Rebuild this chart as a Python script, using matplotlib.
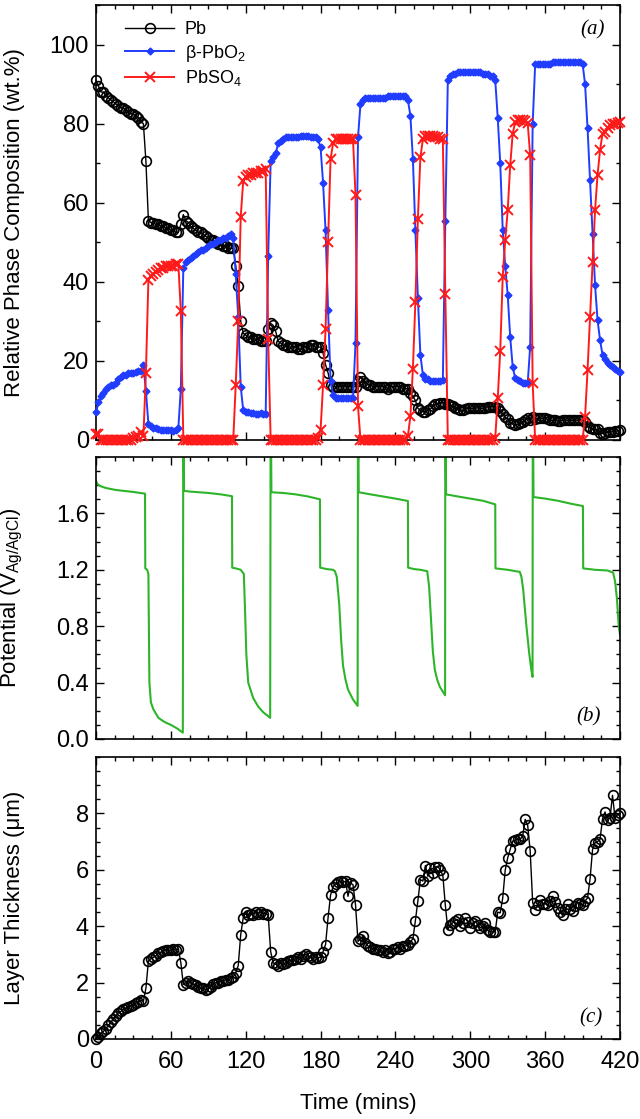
import numpy as np
import matplotlib
matplotlib.use('Agg')
import matplotlib.pyplot as plt
from matplotlib.ticker import MultipleLocator

plt.rcParams['font.family'] = ['Liberation Sans', 'DejaVu Sans']
plt.rcParams['mathtext.default'] = 'regular'

# ============ data ============
time = np.arange(0, 421, 2)   # sample times (mins)

pb = [
    91, 89.5, 88, 88, 87, 86.5, 86, 85.5, 85, 84.5,
    84, 84, 83.5, 83, 82.5, 82.5, 82, 81.5, 80.5, 80,
    70.5, 55.5, 55, 55, 54.5, 54.5, 54, 54, 53.5, 53.5,
    53, 53, 52.5, 52.5, 54.5, 57, 55.5, 55, 54, 53.5,
    53, 52.5, 52.5, 52, 51.5, 51, 50.5, 50.5, 50, 49.5,
    49.5, 49, 49, 48.5, 48.5, 48.5, 44, 39, 30, 27,
    26.5, 26, 26, 25.5, 25.5, 25.5, 25, 25, 25, 28,
    29.5, 29, 27.5, 25, 24.5, 24, 24, 23.5, 23.5, 23.5,
    23.5, 23, 23, 23.5, 23.5, 23.5, 24, 24, 23.5, 23.5,
    23.5, 22, 19, 17, 14, 13.5, 13.5, 13.5, 13.5, 13.5,
    13.5, 13.5, 13.5, 13.5, 13.5, 15, 16, 15, 14.5, 14,
    14, 13.5, 13.5, 13.5, 13.5, 13.5, 13.5, 13, 13.5, 13.5,
    13.5, 13.5, 13.5, 13, 13, 13, 12, 11, 10, 8,
    7.5, 7.2, 7.2, 7.5, 7.8, 8.5, 9, 9.2, 9.4, 9.4,
    9, 9, 8.8, 8.5, 8, 7.8, 7.5, 7.5, 7.8, 8,
    8, 8, 8, 8.2, 8, 8, 8.2, 8.4, 8.4, 8.4,
    8.4, 8, 7.4, 6.5, 5.8, 5.3, 4.4, 4, 3.8, 4,
    4.2, 4.5, 5, 5.5, 5, 5.7, 5.2, 5.5, 5.5, 5.5,
    5.5, 5.2, 5, 5, 5, 4.8, 4.8, 5, 5, 5,
    5, 5, 5, 5, 5, 5, 4.6, 3.5, 3.1, 2.7,
    2.7, 2.7, 1.8, 1.6, 1.8, 2, 2, 2.1, 2.2, 2.3,
    2.5]

pbo2 = [
    7, 9.5, 11, 12, 13, 13.5, 14, 14, 14.5, 15.5,
    16, 16.5, 16.5, 17, 17, 17, 17.3, 17.5, 17.5, 19,
    12.5, 4, 3.5, 3, 3, 2.8, 2.5, 2.5, 2.5, 2.5,
    2.5, 2.2, 2.5, 3, 13, 43.5, 45, 45.5, 46, 46.5,
    47, 47.5, 48, 48, 48.5, 49, 49.5, 49.5, 50, 50.5,
    50.5, 51, 51, 51.5, 52, 51, 42, 31, 13.5, 7.5,
    7, 7, 6.8, 6.8, 6.5, 6.5, 6.8, 6.5, 6.5, 46.5,
    70.5, 71.5, 72.5, 75, 75.5, 76, 76.5, 76.5, 76.5, 76.5,
    76.5, 76.5, 77, 77, 77, 77, 76.5, 76.5, 76.5, 76,
    74, 65, 53, 33, 15, 11.5, 10.5, 10.5, 10.5, 10.5,
    10.5, 10.5, 10.5, 10.5, 24.5, 76.5, 85, 86, 86.5, 86.5,
    86.5, 86.5, 86.5, 86.5, 86.5, 86.5, 86.5, 87, 87, 87,
    87, 87, 87, 87, 87, 86, 82, 71, 53, 36,
    21.5, 16.5, 15.5, 15.5, 15, 15, 15, 15, 15, 15.2,
    55.5, 91, 92, 92.5, 92.5, 93, 93, 93, 93, 93,
    93, 93, 93, 93, 93, 92.5, 92.5, 92.5, 92, 92,
    91, 81.5, 70, 53, 44, 36.6, 26, 18.5, 15.6, 15.2,
    15, 14.5, 14.3, 14.3, 23.6, 80, 95, 95, 95, 95,
    95, 95, 95, 95.5, 95.5, 95.5, 95.5, 95.5, 95.5, 95.5,
    95.5, 95.5, 95.5, 95.5, 95.5, 95.2, 90, 78.8, 65.7, 52.2,
    39.2, 30.3, 25.3, 21.5, 20.5, 19.5, 19, 18.5, 18, 17.5,
    17.3]

pbso4 = [
    1.5, 1.5, 0, 0, 0, 0, 0, 0, 0, 0,
    0, 0, 0, 0, 0, 0.5, 0.8, 1, 2, 1,
    17, 40.5, 41.5, 42, 42.5, 43, 43.5, 43.5, 44, 44,
    44, 44, 44.5, 44.5, 32.5, 0, 0, 0, 0, 0,
    0, 0, 0, 0, 0, 0, 0, 0, 0, 0,
    0, 0, 0, 0, 0, 0, 14, 30, 56.5, 65.5,
    66.5, 67, 67, 67.5, 67.5, 67.5, 68, 68, 68.5, 25.5,
    0, 0, 0, 0, 0, 0, 0, 0, 0, 0,
    0, 0, 0, 0, 0, 0, 0, 0, 0, 0.5,
    2.5, 14, 28, 50, 71, 75, 76, 76, 76, 76,
    76, 76, 76, 76, 62, 8.5, 0, 0, 0, 0,
    0, 0, 0, 0, 0, 0, 0, 0, 0, 0,
    0, 0, 0, 0, 0, 1, 6, 18, 35, 56,
    71.5, 76, 77, 77, 77, 77, 76.5, 76.5, 76, 76,
    37, 0, 0, 0, 0, 0, 0, 0, 0, 0,
    0, 0, 0, 0, 0, 0, 0, 0, 0, 0,
    0.5, 10.5, 22.5, 41.3, 50.5, 58.1, 69.5, 77.5, 80.4, 80.8,
    80.8, 81, 80.7, 80.2, 72, 14.3, 0, 0, 0, 0,
    0, 0, 0, 0, 0, 0, 0, 0, 0, 0,
    0, 0, 0, 0, 0, 0, 5.9, 17.7, 31.2, 45.1,
    58.1, 67, 73.3, 77.5, 78, 79, 79.6, 79.8, 80, 80.2,
    80.4]

thickness = [
    0, 0.08, 0.2, 0.27, 0.37, 0.48, 0.6, 0.72, 0.82, 0.93,
    0.98, 1.05, 1.1, 1.15, 1.18, 1.22, 1.28, 1.32, 1.37, 1.34,
    1.8, 2.76, 2.85, 2.9, 2.95, 3.05, 3.08, 3.12, 3.17, 3.15,
    3.15, 3.2, 3.15, 3.2, 2.7, 1.93, 2.0, 2.05, 1.98, 1.95,
    1.9, 1.85, 1.8, 1.8, 1.75, 1.78, 1.85, 1.95, 2.0, 2.0,
    2.05, 2.05, 2.1, 2.1, 2.15, 2.2, 2.35, 2.6, 3.7, 4.3,
    4.5, 4.4, 4.45, 4.4, 4.5, 4.45, 4.5, 4.45, 4.45, 4.4,
    3.1, 2.7, 2.65, 2.6, 2.7, 2.65, 2.7, 2.75, 2.8, 2.8,
    2.85, 2.9, 2.85, 2.95, 3.0, 2.95, 2.9, 2.85, 2.9, 2.88,
    2.9, 3.1, 3.35, 4.3, 5.1, 5.4, 5.5, 5.55, 5.6, 5.55,
    5.6, 5.06, 5.53, 5.47, 4.76, 3.46, 3.55, 3.64, 3.4, 3.3,
    3.25, 3.2, 3.2, 3.15, 3.15, 3.1, 3.15, 3.05, 3.1, 3.2,
    3.2, 3.25, 3.2, 3.3, 3.3, 3.35, 3.45, 3.55, 4.2, 4.9,
    5.65, 5.6, 6.15, 5.77, 6.07, 5.9, 6.1, 6.11, 6.0, 5.8,
    4.74, 3.88, 4.05, 4.12, 4.2, 4.24, 4.0, 4.1, 4.3, 4.15,
    3.94, 4.1, 4.18, 4.05, 3.94, 4.0, 4.1, 3.85, 3.79, 3.8,
    3.8, 4.5, 4.47, 5.0, 5.99, 6.43, 6.72, 7.02, 7.05, 7.08,
    7.08, 7.2, 7.79, 7.58, 6.67, 4.83, 4.59, 4.75, 4.92, 4.8,
    4.8, 4.74, 4.9, 5.06, 4.85, 4.65, 4.5, 4.38, 4.6, 4.77,
    4.6, 4.53, 4.7, 4.83, 4.8, 4.74, 4.9, 5.0, 5.68, 6.72,
    6.96, 7.0, 7.08, 7.81, 8.05, 7.76, 7.85, 8.64, 7.84, 7.95,
    8.0]

# potential trace, break points along the curve
pot_t = [0, 1, 3, 8, 16, 30, 39.3, 39.5, 41, 42, 42.8, 44, 46, 50, 55, 60, 65, 69.6, 70, 70.6,
         75, 90, 100, 109, 109.2, 112, 116, 118.5, 119.5, 120.5, 122, 126, 130, 134, 139.6, 140, 140.6,
         150, 160, 170, 179.5, 179.7, 185, 190, 191.5, 193, 195, 196.5, 198, 200, 202, 206, 209.7, 210, 210.6,
         220, 230, 240, 250, 250.2, 255, 260, 265.5, 267, 268.5, 270, 271.6, 273.5, 275.6, 279.8, 280, 280.6,
         290, 300, 310, 320, 320.2, 330, 339.7, 341, 342.4, 345, 347.2, 349.1, 349.9, 350.1, 350.7,
         360, 370, 380, 390.3, 390.5, 400, 410, 414.5, 416, 417.5, 419, 420]
pot_v = [1.83, 1.81, 1.795, 1.78, 1.766, 1.752, 1.74, 1.21, 1.2, 1.17, 0.4, 0.26, 0.21, 0.15, 0.12, 0.1, 0.075, 0.045, 2.5, 1.76,
         1.755, 1.745, 1.735, 1.722, 1.215, 1.21, 1.2, 1.17, 0.9, 0.6, 0.4, 0.29, 0.23, 0.19, 0.15, 2.5, 1.75,
         1.745, 1.735, 1.72, 1.70, 1.215, 1.205, 1.2, 1.19, 1.15, 0.95, 0.7, 0.52, 0.42, 0.35, 0.28, 0.235, 2.5, 1.75,
         1.735, 1.72, 1.705, 1.688, 1.215, 1.205, 1.2, 1.19, 1.08, 0.85, 0.62, 0.49, 0.42, 0.37, 0.31, 2.5, 1.735,
         1.72, 1.705, 1.69, 1.664, 1.21, 1.2, 1.185, 1.15, 1.06, 0.80, 0.61, 0.48, 0.44, 2.5, 1.716,
         1.705, 1.69, 1.67, 1.652, 1.21, 1.2, 1.195, 1.18, 1.12, 1.0, 0.8, 0.74]

pct_ticks = [0, 20, 40, 60, 80, 100]
pot_ticks = [0.0, 0.4, 0.8, 1.2, 1.6]
thk_ticks = [0, 2, 4, 6, 8]
time_ticks = [0, 60, 120, 180, 240, 300, 360, 420]

# ============ figure ============
fig = plt.figure(figsize=(6.4, 11.19), dpi=100)
ax1 = fig.add_axes([0.15, 0.6068, 0.81875, 0.3887])
ax2 = fig.add_axes([0.15, 0.3396, 0.81875, 0.252])
ax3 = fig.add_axes([0.15, 0.0715, 0.81875, 0.252])

ax1.plot(time, pb, color='black', lw=1.0, marker='o', ms=7, mfc='none', mew=1.2,
         label='Pb', clip_on=False, zorder=3)
ax1.plot(time, pbo2, color='#1f3cff', lw=1.4, marker='D', ms=3.5,
         label=r'β-PbO$_2$', clip_on=False, zorder=4)
ax1.plot(time, pbso4, color='#ff1a1a', lw=1.4, marker='x', ms=6.5, mew=1.4,
         label=r'PbSO$_4$', clip_on=False, zorder=5)
ax1.set_ylim(0, 110)
ax1.set_yticks(pct_ticks)
ax1.yaxis.set_minor_locator(MultipleLocator(10))
ax1.set_ylabel('Relative Phase Composition (wt.%)', fontsize=16)
ax1.legend(loc='upper left', bbox_to_anchor=(0.025, 1.0), frameon=False, fontsize=13,
           handlelength=2.7, handletextpad=0.6, labelspacing=0.25)
ax1.text(0.948, 0.943, '(a)', transform=ax1.transAxes, ha='center', va='center',
         fontsize=15, family='Liberation Serif', style='italic')

ax2.plot(pot_t, pot_v, color='#2db52a', lw=1.5)
ax2.set_ylim(0, 2.0)
ax2.set_yticks(pot_ticks)
ax2.set_yticklabels(['%.1f' % v for v in pot_ticks])
ax2.yaxis.set_minor_locator(MultipleLocator(0.1))
ax2.set_ylabel(r'Potential (V$_{Ag/AgCl}$)', fontsize=16)
ax2.text(0.94, 0.079, '(b)', transform=ax2.transAxes, ha='center', va='center',
         fontsize=15, family='Liberation Serif', style='italic')

ax3.plot(time, thickness, color='black', lw=1.0, marker='o', ms=7, mfc='none', mew=1.2,
         clip_on=False, zorder=3)
ax3.set_ylim(0, 10)
ax3.set_yticks(thk_ticks)
ax3.yaxis.set_minor_locator(MultipleLocator(0.5))
ax3.set_ylabel('Layer Thickness (μm)', fontsize=16)
ax3.set_xlabel('Time (mins)', fontsize=16, labelpad=14)
ax3.text(0.944, 0.076, '(c)', transform=ax3.transAxes, ha='center', va='center',
         fontsize=15, family='Liberation Serif', style='italic')

for ax in (ax1, ax2, ax3):
    ax.set_xlim(0, 420)
    ax.set_xticks(time_ticks)
    ax.xaxis.set_minor_locator(MultipleLocator(15))
    ax.tick_params(which='both', direction='in', top=True, right=True, width=1.0,
                   labelsize=17)
    ax.tick_params(axis='y', pad=5)
    ax.tick_params(axis='x', pad=9)
    ax.tick_params(which='major', length=6)
    ax.tick_params(which='minor', length=3)
    for s in ax.spines.values():
        s.set_linewidth(1.2)
    ax.yaxis.set_label_coords(-0.135, 0.5)
for ax in (ax1, ax2):
    ax.tick_params(labelbottom=False)

fig.savefig('out.png', dpi=100)
